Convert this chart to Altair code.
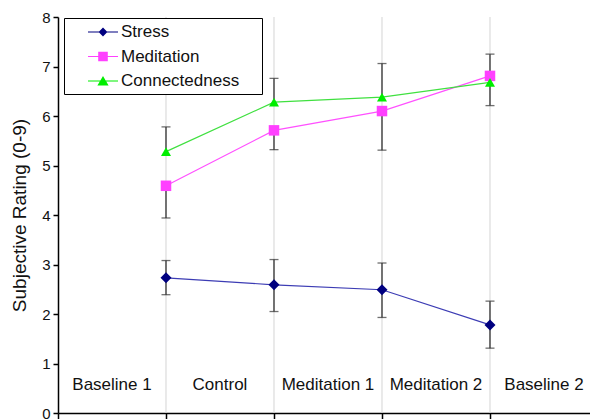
import altair as alt
import pandas as pd

# ---- data ----
categories = ["Baseline 1", "Control", "Meditation 1", "Meditation 2", "Baseline 2"]
category_pos = [0.5, 1.5, 2.5, 3.5, 4.5]
category_label_y = [0.57, 0.57, 0.57, 0.57, 0.57]
session_pos = [1, 2, 3, 4]
grid_pos = [1, 2, 3, 4]

series_names = ["Stress", "Meditation", "Connectedness"]
stress = [2.73, 2.59, 2.49, 1.78]
stress_low = [2.39, 2.05, 1.93, 1.31]
stress_high = [3.08, 3.10, 3.03, 2.26]
meditation = [4.59, 5.71, 6.10, 6.81]
meditation_bar_end = [3.94, 5.32, 5.31, 7.25]
connectedness = [5.28, 6.28, 6.38, 6.68]
connectedness_bar_end = [5.78, 6.76, 7.06, 6.21]

y_ticks = [0, 1, 2, 3, 4, 5, 6, 7, 8]
x_ticks = [0, 1, 2, 3, 4]
x_domain = [0, 4.926]   # the reference crops the fifth band at the right edge

# ---- styling ----
marker_colors = ["#000080", "#ff40ff", "#00ee00"]
line_colors = ["#3c3cb4", "#ff50ff", "#40e040"]
shapes = ["diamond", "square", "triangle-up"]
marker_sizes = [121, 100, 140]
FONT = "Liberation Sans"

# legend glyphs: a short line segment with the marker in its middle
seg = "M1.25,-0.07H5V0.07H1.25Z"
legend_shapes = [
    seg + "M3.125,-0.55L3.675,0L3.125,0.55L2.575,0Z",
    seg + "M2.525,-0.6H3.725V0.6H2.525Z",
    seg + "M3.125,-0.62L3.825,0.55L2.425,0.55Z",
]

# ---- tables ----
pts = []
for name, vals in zip(series_names, [stress, meditation, connectedness]):
    for p, v in zip(session_pos, vals):
        pts.append({"series": name, "pos": p, "value": v})
points_df = pd.DataFrame(pts)

rules, caps = [], []
for p, lo, hi in zip(session_pos, stress_low, stress_high):
    rules.append({"pos": p, "value": lo, "value2": hi})
    caps.append({"pos": p, "value": lo})
    caps.append({"pos": p, "value": hi})
for vals, ends in [(meditation, meditation_bar_end), (connectedness, connectedness_bar_end)]:
    for p, v, e in zip(session_pos, vals, ends):
        rules.append({"pos": p, "value": v, "value2": e})
        caps.append({"pos": p, "value": e})
rules_df = pd.DataFrame(rules)
caps_df = pd.DataFrame(caps)
labels_df = pd.DataFrame({"pos": category_pos, "value": category_label_y, "label": categories})
grid_df = pd.DataFrame({"pos": grid_pos})

# ---- encodings ----
x_enc = alt.X(
    "pos:Q",
    scale=alt.Scale(domain=x_domain, nice=False, zero=False),
    axis=alt.Axis(values=x_ticks, labels=False, title=None, grid=False,
                  tickSize=7, tickColor="black", tickWidth=1.5,
                  domainColor="black", domainWidth=1.5),
)
y_axis = alt.Axis(values=y_ticks, grid=False, tickSize=5, tickColor="black", tickWidth=1.5,
                  domainColor="black", domainWidth=1.5, labelPadding=3,
                  labelFont=FONT, labelFontSize=15, labelColor="#111",
                  titleFont=FONT, titleFontSize=19, titleFontWeight="normal",
                  titleColor="#111", titlePadding=12)
y_scale = alt.Scale(domain=[0, 8], nice=False, zero=True)


def y_enc():
    return alt.Y("value:Q", scale=y_scale, axis=y_axis, title="Subjective Rating (0-9)")


legend = alt.Legend(
    title=None, orient="none", legendX=6, legendY=1, padding=5,
    strokeColor="black", fillColor="white",
    labelFont=FONT, labelFontSize=17, labelColor="#111",
    symbolSize=256, labelOffset=34, rowPadding=7.5, symbolOpacity=1,
    labelExpr="datum.label + '\u00a0\u00a0\u00a0\u2009\u200b'",
)

grid = alt.Chart(grid_df).mark_rule(color="#d4d4d4", strokeWidth=1).encode(x=x_enc)

lines = alt.Chart(points_df).mark_line(strokeWidth=1.2).encode(
    x=x_enc, y=y_enc(),
    color=alt.Color("series:N", scale=alt.Scale(domain=series_names, range=line_colors), legend=None),
    order="pos:Q",
)

err = alt.Chart(rules_df).mark_rule(color="#333333", strokeWidth=1.3).encode(
    x=x_enc, y=y_enc(), y2="value2:Q"
)
cap = alt.Chart(caps_df).mark_tick(orient="horizontal", size=9, thickness=1.3, color="#333333").encode(
    x=x_enc, y=y_enc()
)

pts_layer = alt.Chart(points_df).mark_point(filled=True, opacity=1).encode(
    x=x_enc, y=y_enc(),
    color=alt.Color("series:N", scale=alt.Scale(domain=series_names, range=marker_colors), legend=None),
    shape=alt.Shape("series:N", scale=alt.Scale(domain=series_names, range=shapes), legend=None),
    size=alt.Size("series:N", scale=alt.Scale(domain=series_names, range=marker_sizes), legend=None),
)

# legend-only layer (draws no marks)
legend_layer = alt.Chart(points_df).transform_filter("false").mark_point(filled=True, opacity=1).encode(
    x=x_enc, y=y_enc(),
    color=alt.Color("series:N", scale=alt.Scale(domain=series_names, range=marker_colors), legend=legend),
    shape=alt.Shape("series:N", scale=alt.Scale(domain=series_names, range=legend_shapes), legend=legend),
)

texts = alt.Chart(labels_df).mark_text(font=FONT, fontSize=17, color="#111", baseline="middle").encode(
    x=x_enc, y=y_enc(), text="label:N"
)

chart = alt.layer(grid, lines, err, cap, pts_layer, texts, legend_layer).resolve_scale(
    color="independent", shape="independent"
).properties(
    width=532, height=396, background="white",
    autosize=alt.AutoSizeParams(type="none"),
    padding={"left": 50, "top": 9, "right": 0, "bottom": 6},
).configure_view(strokeWidth=0)

chart.save("out.html", embed_options={"renderer": "svg", "actions": False})
